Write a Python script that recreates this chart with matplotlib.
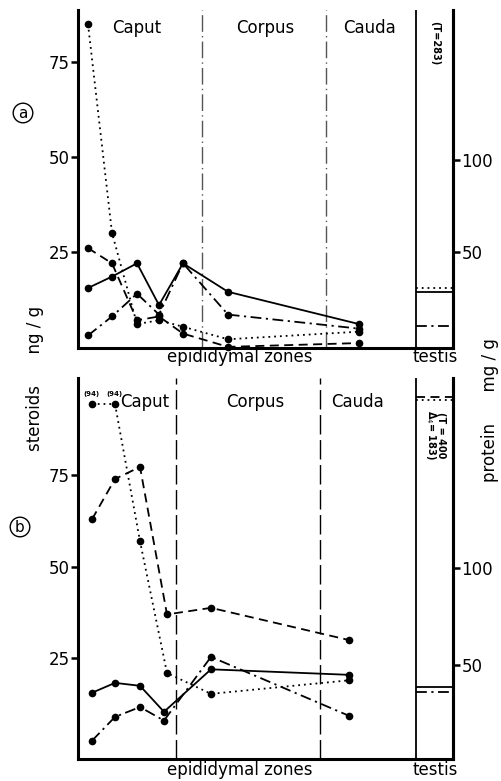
import matplotlib
matplotlib.use("Agg")
import matplotlib.pyplot as plt

# ---- data (steroids, ng/g) ----
# panel a: positions along the epididymis (arbitrary units) and values
pos_a = [10, 34, 59, 81, 105, 150, 281]
a_solid = [15.5, 18.5, 22, 11, 22, 14.5, 6]
a_dashed = [26, 22, 7, 8, 3.5, 0, 1]
a_dotted = [85, 30, 6, 7, 5.3, 2, 4]
a_dashdot = [3, 8, 14, 8.5, 22, 8.5, 4.8]
a_testis = {"dotted": 15.5, "solid": 14.5, "dashdot": 5.5, "dashed": 89}

# panel b
pos_b1 = [14, 37, 62, 86, 133, 271]
pos_b2 = [14, 37, 62, 89, 133, 271]
b_solid = [15.6, 18.3, 17.5, 10.4, 22, 20.5]
b_dashdot = [2.5, 9, 11.7, 8, 25.4, 9.3]
b_dashed = [63, 74, 77.3, 37, 38.8, 30]
b_dotted = [94.5, 94.5, 57, 21, 15.3, 19]
b_testis = {"solid": 17.2, "dashdot": 15.8, "dotted": 95.5, "dashed": 96.3}

zones = ["Caput", "Corpus", "Cauda"]
left_ticks = [25, 50, 75]
right_ticks = [50, 100]

STY = {"solid": "-", "dashed": (0, (5, 3)), "dotted": (0, (1, 2.2)),
       "dashdot": (0, (6, 2.5, 1.2, 2.5))}

plt.rcParams["font.family"] = ["DejaVu Sans"]
fig = plt.figure(figsize=(5.01, 7.81), dpi=100)

L, W = 78 / 501, 375 / 501
ax_a = fig.add_axes([L, 1 - 348 / 781, W, 338 / 781])
ax_b = fig.add_axes([L, 1 - 759 / 781, W, 381 / 781])

XMAX = 375
TEST0 = 338


def style(ax, ylim, rylim):
    ax.set_xlim(0, XMAX)
    ax.set_ylim(*ylim)
    for s in ["top"]:
        ax.spines[s].set_visible(False)
    for s in ["left", "bottom", "right"]:
        ax.spines[s].set_linewidth(2.2)
    ax.set_xticks([])
    ax.set_yticks(left_ticks)
    ax.set_yticklabels([str(t) for t in left_ticks], fontsize=12)
    ax.tick_params(axis="y", direction="out", length=5, width=1.8, pad=1)
    rx = ax.twinx()
    rx.set_ylim(*rylim)
    for s in ["top", "left", "bottom"]:
        rx.spines[s].set_visible(False)
    rx.spines["right"].set_linewidth(2.2)
    rx.set_yticks(right_ticks)
    rx.set_yticklabels([str(t) for t in right_ticks], fontsize=12)
    rx.tick_params(axis="y", direction="out", length=5, width=1.8, pad=1)
    # testis box left edge
    ax.axvline(TEST0, color="black", lw=1.3)


def series(ax, x, y, key):
    ax.plot(x, y, color="black", lw=1.3, linestyle=STY[key], marker="o",
            markersize=4.5, clip_on=False, zorder=3)


def testis(ax, vals):
    for key, v in vals.items():
        ax.hlines(v, TEST0, XMAX, color="black", lw=1.3, linestyles=[STY[key]])


# ---- panel a ----
style(ax_a, (-0.3, 88.7), (-2.2, 181.5))
for xv in [124, 248]:
    ax_a.axvline(xv, color="#555555", lw=1.0, linestyle=(0, (12, 3, 1, 3)))
series(ax_a, pos_a, a_solid, "solid")
series(ax_a, pos_a, a_dashed, "dashed")
series(ax_a, pos_a, a_dotted, "dotted")
series(ax_a, pos_a, a_dashdot, "dashdot")
testis(ax_a, a_testis)
for z, xc in zip(zones, [59, 187, 292]):
    ax_a.text(xc, 84, z, ha="center", va="center", fontsize=12)
ax_a.text(357, 80, "(T=283)", rotation=-90, ha="center", va="center",
          fontsize=7, fontweight="bold")

# ---- panel b ----
style(ax_b, (-2.5, 101.6), (1.5, 198))
for xv in [98, 242]:
    ax_b.axvline(xv, color="black", lw=1.0, linestyle=(0, (14, 4)))
series(ax_b, pos_b1, b_solid, "solid")
series(ax_b, pos_b1, b_dashdot, "dashdot")
series(ax_b, pos_b2, b_dashed, "dashed")
series(ax_b, pos_b2, b_dotted, "dotted")
testis(ax_b, b_testis)
for z, xc in zip(zones, [67, 177, 280]):
    ax_b.text(xc, 95, z, ha="center", va="center", fontsize=12)
for xv in pos_b2[:2]:
    ax_b.text(xv - 1, 97.3, "(94)", ha="center", va="center", fontsize=5,
              fontweight="bold")
ax_b.text(357, 86, "(T = 400\nΔ$_4$= 183)", rotation=-90, ha="center",
          va="center", fontsize=7, fontweight="bold", linespacing=0.9)

# ---- shared text ----
for yb in [357, 770]:
    fig.text(240 / 501, 1 - yb / 781, "epididymal zones", ha="center",
             va="center", fontsize=12)
    fig.text(435 / 501, 1 - yb / 781, "testis", ha="center", va="center",
             fontsize=12)

fig.text(35 / 501, 1 - 378 / 781, "steroids      ng / g", rotation=90,
         ha="center", va="center", fontsize=12)
fig.text(490 / 501, 1 - 410 / 781, "protein      mg / g", rotation=90,
         ha="center", va="center", fontsize=12)

for lab, (cx, cy) in zip(["a", "b"], [(23, 113), (20, 527)]):
    fig.text(cx / 501, 1 - cy / 781, lab, ha="center", va="center",
             fontsize=11,
             bbox=dict(boxstyle="circle,pad=0.15", fc="white", ec="black",
                       lw=1.0))

fig.savefig("out.png", dpi=100)
